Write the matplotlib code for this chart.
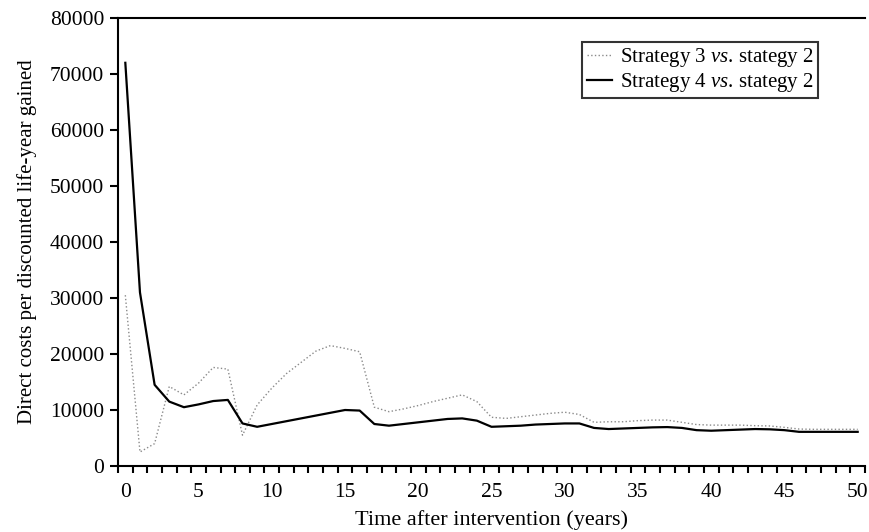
import matplotlib
matplotlib.use("Agg")
import matplotlib.pyplot as plt
from matplotlib.ticker import FixedLocator, NullFormatter

plt.rcParams['font.family'] = ['Liberation Serif', 'DejaVu Serif']
plt.rcParams['mathtext.fontset'] = 'custom'
plt.rcParams['mathtext.it'] = 'Liberation Serif:italic'
plt.rcParams['mathtext.rm'] = 'Liberation Serif'

years = list(range(0, 51))
strategy3 = [30500, 2500, 4000, 14200, 12700, 14800, 17600, 17300, 5500, 10900,
             13900, 16500, 18500, 20500, 21500, 21000, 20400, 10500, 9700, 10200,
             10800, 11500, 12100, 12700, 11500, 8700, 8500, 8800, 9100, 9400,
             9600, 9200, 7800, 7900, 7900, 8100, 8200, 8200, 7800, 7400,
             7300, 7300, 7300, 7200, 7150, 6900, 6600, 6550, 6550, 6550, 6550]
strategy4 = [72000, 31000, 14500, 11500, 10500, 11000, 11600, 11800, 7600, 7000,
             7500, 8000, 8500, 9000, 9500, 10000, 9900, 7500, 7200, 7500,
             7800, 8100, 8400, 8500, 8100, 7000, 7100, 7200, 7400, 7500,
             7600, 7600, 6800, 6600, 6700, 6800, 6900, 6950, 6800, 6400,
             6300, 6400, 6500, 6600, 6550, 6400, 6100, 6100, 6100, 6100, 6100]
labels = ['Strategy 3 $\\mathit{vs}$. stategy 2', 'Strategy 4 $\\mathit{vs}$. stategy 2']
xticks = list(range(0, 51, 5))
yticks = list(range(0, 80001, 10000))

W, H = 869, 532
fig = plt.figure(figsize=(W / 100, H / 100), dpi=100)
ax = fig.add_axes([118 / W, 1 - 466 / H, (865 - 118) / W, (466 - 18) / H])

ax.plot(years, strategy3, color='#8a8a8a', linestyle=':', linewidth=1.0, label=labels[0])
ax.plot(years, strategy4, color='black', linestyle='-', linewidth=1.6, label=labels[1])

ax.set_xlim(-0.5, 50.5)
ax.set_ylim(0, 80000)
ax.set_xticks(xticks)
ax.set_xticklabels([str(t) for t in xticks])
ax.xaxis.set_minor_locator(FixedLocator([i - 0.5 for i in range(0, 52)]))
ax.xaxis.set_minor_formatter(NullFormatter())
ax.tick_params(axis='x', which='major', length=0, pad=12, labelsize=15.5)
ax.tick_params(axis='x', which='minor', direction='out', length=5, width=1.5)
ax.set_yticks(yticks)
ax.set_yticklabels([str(t) for t in yticks])
ax.tick_params(axis='y', direction='out', length=6, width=1.5, pad=4, labelsize=15.5)

for s in ['left', 'bottom', 'top']:
    ax.spines[s].set_linewidth(1.5)
ax.spines['right'].set_visible(False)

ax.set_xlabel('Time after intervention (years)', fontsize=16, labelpad=6)
ax.set_ylabel('Direct costs per discounted life-year gained', fontsize=15)
ax.yaxis.set_label_coords(-0.108, 0.5)

leg = ax.legend(loc='upper right', bbox_to_anchor=(818 / W, 1 - 42 / H),
                bbox_transform=fig.transFigure, frameon=True, fancybox=False,
                edgecolor='black', fontsize=15, handlelength=1.2,
                borderpad=0.2, labelspacing=0.1, handletextpad=0.4, borderaxespad=0)
leg.get_frame().set_linewidth(1.5)

fig.savefig('out.png', dpi=100)
